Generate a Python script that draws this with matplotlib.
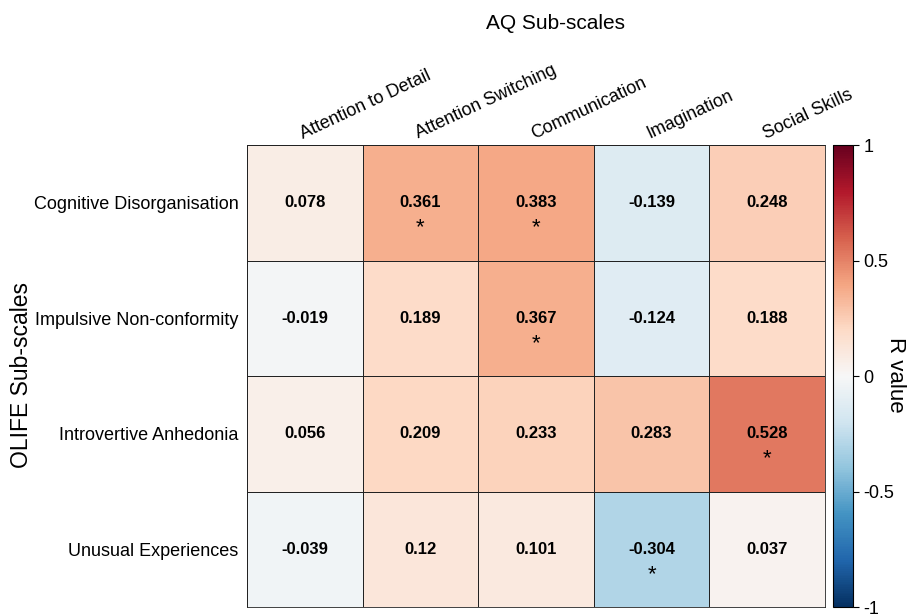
import matplotlib.pyplot as plt
import numpy as np

plt.rcParams.update({'font.family': ['Liberation Sans', 'DejaVu Sans']})

aq_scales = ['Attention to Detail', 'Attention Switching', 'Communication',
             'Imagination', 'Social Skills']
olife_scales = ['Cognitive Disorganisation', 'Impulsive Non-conformity',
                'Introvertive Anhedonia', 'Unusual Experiences']
r_values = [
    [0.078, 0.361, 0.383, -0.139, 0.248],
    [-0.019, 0.189, 0.367, -0.124, 0.188],
    [0.056, 0.209, 0.233, 0.283, 0.528],
    [-0.039, 0.12, 0.101, -0.304, 0.037],
]
significant = [
    [False, True, True, False, False],
    [False, False, True, False, False],
    [False, False, False, False, True],
    [False, False, False, True, False],
]

r = np.array(r_values)
fig = plt.figure(figsize=(9.11, 6.14), dpi=100)
ax = fig.add_axes([0.2711, 0.0114, 0.6345, 0.7524])
cax = fig.add_axes([0.9144, 0.0114, 0.022, 0.7524])

mesh = ax.pcolormesh(r, cmap='RdBu_r', vmin=-1, vmax=1,
                     edgecolors='#222222', linewidth=0.6)
ax.set_xlim(0, r.shape[1])
ax.set_ylim(r.shape[0], 0)

for i in range(r.shape[0]):
    for j in range(r.shape[1]):
        ax.text(j + 0.5, i + 0.5, f'{r_values[i][j]:g}', ha='center', va='center',
                fontsize=12, fontweight='bold')
        if significant[i][j]:
            ax.text(j + 0.5, i + 0.72, '*', ha='center', va='center', fontsize=16)

ax.set_xticks(np.arange(r.shape[1]) + 0.5)
ax.set_xticklabels(aq_scales, rotation=25, ha='left', va='bottom',
                   rotation_mode='anchor', fontsize=13)
ax.xaxis.tick_top()
ax.set_yticks(np.arange(r.shape[0]) + 0.5)
ax.set_yticklabels(olife_scales, fontsize=13)
ax.tick_params(length=0, pad=6)
ax.tick_params(axis='x', pad=2)
for s in ax.spines.values():
    s.set_linewidth(0.6)
    s.set_color('#222222')

fig.text(0.61, 0.962, 'AQ Sub-scales', ha='center', va='center', fontsize=15)
fig.text(0.024, 0.39, 'OLIFE Sub-scales', ha='center', va='center',
         rotation=90, fontsize=16.5)

cb = fig.colorbar(mesh, cax=cax, ticks=[-1, -0.5, 0, 0.5, 1])
cb.ax.set_yticklabels(['-1', '-0.5', '0', '0.5', '1'])
cb.ax.tick_params(labelsize=13, length=4, width=0.8, direction='out')
cb.outline.set_linewidth(0.8)
fig.text(0.983, 0.39, 'R value', ha='center', va='center', rotation=270,
         fontsize=16)

fig.savefig('out.png', dpi=100)
